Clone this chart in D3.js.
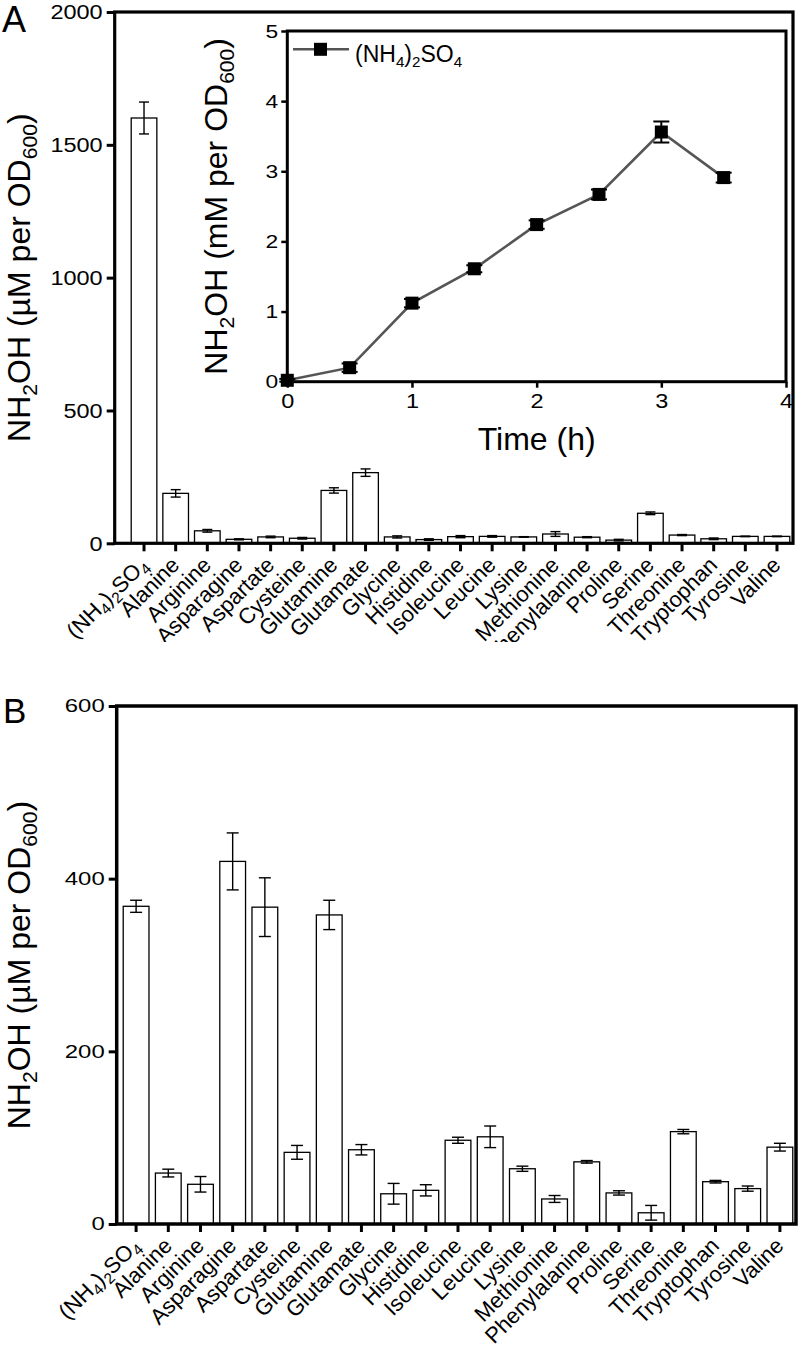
<!DOCTYPE html>
<html><head><meta charset="utf-8">
<script src="https://cdn.jsdelivr.net/npm/d3@7"></script>
<style>
body{margin:0;background:#fff}
svg{display:block}
text{font-family:"Liberation Sans",Arial,Helvetica,sans-serif;fill:#000}
</style>
</head><body>
<svg id="chart" width="800" height="1356"></svg>
<script>
// ---------- data ----------
const categories = ["(NH4)2SO4","Alanine","Arginine","Asparagine","Aspartate","Cysteine","Glutamine","Glutamate","Glycine","Histidine","Isoleucine","Leucine","Lysine","Methionine","Phenylalanine","Proline","Serine","Threonine","Tryptophan","Tyrosine","Valine"];
const panelAValues = [1601,188,47,15,24,19,199,266,24,14,25,26,24,35,23,12,113,31,17,26,26];
const panelAErrors = [60,14,5,2,3,3,10,14,4,3,4,3,1,9,2,3,5,2,3,1,1];
const panelBValues = [368,59,46,420,367,83,358,86,35,39,97,101,64,29,72,36,13,107,49,41,89];
const panelBErrors = [7,4.5,9,33,34,8,17,6,12,6.5,3.5,12.5,3,4,1.5,2.5,8.5,2.5,1.5,3,4.5];
const panelATicks = [0,500,1000,1500,2000];
const panelBTicks = [0,200,400,600];
const insetTime = [0,0.5,1,1.5,2,2.5,3,3.5];
const insetValues = [0.02,0.2,1.12,1.61,2.24,2.67,3.56,2.91];
const insetErrors = [0.02,0.06,0.06,0.05,0.06,0.07,0.15,0.07];
const insetXTicks = [0,1,2,3,4];
const insetYTicks = [0,1,2,3,4,5];

const svg = d3.select("#chart");

function segsFor(name){
  if(name === "(NH4)2SO4") return [["(NH",0],["4",1],[")",0],["2",1],["SO",0],["4",1]];
  return [[name,0]];
}
function rich(textSel, segs, fs, subScale){
  const ss = subScale || 0.66;
  const shift = fs*0.22;
  let down = false;
  segs.forEach(([t,sub])=>{
    const ts = textSel.append("tspan").text(t);
    if(sub){ ts.attr("font-size", fs*ss); if(!down){ts.attr("dy", shift); down=true;} }
    else { if(down){ ts.attr("dy", -shift); down=false; } }
  });
}
function scaleTickText(g, sx){
  g.selectAll(".tick text").each(function(){
    const t = d3.select(this);
    const x = +t.attr("x") || 0;
    t.attr("x", x/sx).attr("transform", `scale(${sx},1)`);
  });
}

// ---------- bar panel ----------
function barPanel(cfg){
  const {x0,x1,y0,y1,bandRange,padIn,values,errors,ticks,yMax,frameW,tickFs,tickSx,capW,labelFs,clipY,yLabelX} = cfg;
  const g = svg.append("g");
  const x = d3.scaleBand().domain(categories).range(bandRange).paddingInner(padIn).paddingOuter(padIn/2);
  const y = d3.scaleLinear().domain([0,yMax]).range([y1,y0]);

  g.selectAll("rect.bar").data(categories).join("rect")
    .attr("x", d=>x(d)).attr("width", x.bandwidth())
    .attr("y", (d,i)=>y(values[i])).attr("height", (d,i)=>y(0)-y(values[i]))
    .attr("fill","#fff").attr("stroke","#000").attr("stroke-width",1.3);
  const eb = g.selectAll("g.err").data(categories).join("g")
    .attr("stroke","#000").attr("stroke-width",1.4);
  eb.append("line").attr("x1",d=>x(d)+x.bandwidth()/2).attr("x2",d=>x(d)+x.bandwidth()/2)
    .attr("y1",(d,i)=>y(values[i]+errors[i])).attr("y2",(d,i)=>y(values[i]-errors[i]));
  eb.append("line").attr("x1",d=>x(d)+x.bandwidth()/2-capW/2).attr("x2",d=>x(d)+x.bandwidth()/2+capW/2)
    .attr("y1",(d,i)=>y(values[i]+errors[i])).attr("y2",(d,i)=>y(values[i]+errors[i]));
  eb.append("line").attr("x1",d=>x(d)+x.bandwidth()/2-capW/2).attr("x2",d=>x(d)+x.bandwidth()/2+capW/2)
    .attr("y1",(d,i)=>y(values[i]-errors[i])).attr("y2",(d,i)=>y(values[i]-errors[i]));

  g.append("rect").attr("x",x0).attr("y",y0).attr("width",x1-x0).attr("height",y1-y0)
    .attr("fill","none").attr("stroke","#000").attr("stroke-width",frameW);

  const ya = g.append("g").attr("transform",`translate(${x0},0)`)
    .call(d3.axisLeft(y).tickValues(ticks).tickSize(8).tickPadding(4).tickFormat(d3.format("d")));
  ya.select(".domain").remove();
  ya.selectAll(".tick line").attr("stroke","#000").attr("stroke-width",3);
  ya.selectAll(".tick text").attr("font-size",tickFs).attr("font-family",null).attr("fill","#000");
  scaleTickText(ya, tickSx);

  const xa = g.append("g").attr("transform",`translate(0,${y1})`)
    .call(d3.axisBottom(x).tickSize(8).tickFormat(""));
  xa.select(".domain").remove();
  xa.selectAll(".tick line").attr("stroke","#000").attr("stroke-width",3);

  const clipId = "clip"+Math.round(y1);
  svg.append("clipPath").attr("id",clipId).append("rect").attr("x",0).attr("y",y1).attr("width",800).attr("height",clipY-y1);
  const lg = g.append("g").attr("clip-path",`url(#${clipId})`);
  categories.forEach(c=>{
    const t = lg.append("text")
      .attr("transform",`translate(${x(c)+x.bandwidth()/2+5},${y1+23}) rotate(-45)`)
      .attr("text-anchor","end").attr("font-size",labelFs);
    rich(t, segsFor(c), labelFs, 0.7);
  });

  const yl = g.append("text")
    .attr("transform",`translate(${yLabelX},${(y0+y1)/2}) rotate(-90)`)
    .attr("text-anchor","middle").attr("font-size",32);
  rich(yl, [["NH",0],["2",1],["OH (\u00B5M per OD",0],["600",1],[")",0]], 32);
  return g;
}

barPanel({x0:114.7,x1:793,y0:12,y1:543.3,bandRange:[128.2,792.8],padIn:0.19,
  values:panelAValues,errors:panelAErrors,ticks:panelATicks,yMax:2000,frameW:3.2,
  tickFs:21,tickSx:1.12,capW:10,labelFs:22,clipY:642,yLabelX:30});
barPanel({x0:116.7,x1:796,y0:706,y1:1224,bandRange:[120,796],padIn:0.2,
  values:panelBValues,errors:panelBErrors,ticks:panelBTicks,yMax:600,frameW:3.5,
  tickFs:18,tickSx:1.33,capW:12,labelFs:22,clipY:1356,yLabelX:30});

svg.append("text").attr("x",2).attr("y",32).attr("font-size",36).text("A");
svg.append("text").attr("x",3).attr("y",723).attr("font-size",35).text("B");

// ---------- inset ----------
const ix0=287.3, ix1=786, iy0=31, iy1=381.7;
const ix = d3.scaleLinear().domain([0,4]).range([ix0,ix1]);
const iy = d3.scaleLinear().domain([0,5]).range([iy1,iy0]);
const ig = svg.append("g");
ig.append("rect").attr("x",ix0).attr("y",iy0).attr("width",ix1-ix0).attr("height",iy1-iy0)
  .attr("fill","#fff").attr("stroke","#000").attr("stroke-width",3);

const ixa = ig.append("g").attr("transform",`translate(0,${iy1})`)
  .call(d3.axisBottom(ix).tickValues(insetXTicks).tickSize(6).tickPadding(5).tickFormat(d3.format("d")));
ixa.select(".domain").remove();
ixa.selectAll(".tick line").attr("stroke","#000").attr("stroke-width",2.5);
ixa.selectAll(".tick text").attr("font-size",21).attr("fill","#000");
scaleTickText(ixa,1.12);

const iya = ig.append("g").attr("transform",`translate(${ix0},0)`)
  .call(d3.axisLeft(iy).tickValues(insetYTicks).tickSize(6).tickPadding(3).tickFormat(d3.format("d")));
iya.select(".domain").remove();
iya.selectAll(".tick line").attr("stroke","#000").attr("stroke-width",2.5);
iya.selectAll(".tick text").attr("font-size",19).attr("fill","#000");
scaleTickText(iya,1.2);

ig.append("path").datum(insetTime)
  .attr("d", d3.line().x(d=>ix(d)).y((d,i)=>iy(insetValues[i])))
  .attr("fill","none").attr("stroke","#555").attr("stroke-width",2.6);
const ieb = ig.selectAll("g.ierr").data(insetTime).join("g").attr("stroke","#000").attr("stroke-width",2);
ieb.append("line").attr("x1",d=>ix(d)).attr("x2",d=>ix(d))
  .attr("y1",(d,i)=>iy(insetValues[i]+insetErrors[i])).attr("y2",(d,i)=>iy(insetValues[i]-insetErrors[i]));
ieb.append("line").attr("x1",d=>ix(d)-8).attr("x2",d=>ix(d)+8)
  .attr("y1",(d,i)=>iy(insetValues[i]+insetErrors[i])).attr("y2",(d,i)=>iy(insetValues[i]+insetErrors[i]));
ieb.append("line").attr("x1",d=>ix(d)-8).attr("x2",d=>ix(d)+8)
  .attr("y1",(d,i)=>iy(insetValues[i]-insetErrors[i])).attr("y2",(d,i)=>iy(insetValues[i]-insetErrors[i]));
ig.selectAll("rect.mk").data(insetTime).join("rect")
  .attr("x",d=>ix(d)-6.5).attr("y",(d,i)=>iy(insetValues[i])-6.5)
  .attr("width",13).attr("height",13).attr("fill","#000");

ig.append("line").attr("x1",293).attr("x2",349).attr("y1",49.3).attr("y2",49.3)
  .attr("stroke","#555").attr("stroke-width",2.6);
ig.append("rect").attr("x",314).attr("y",42.8).attr("width",13).attr("height",13).attr("fill","#000");
const lt = ig.append("text").attr("x",355).attr("y",61.5).attr("font-size",23);
rich(lt, segsFor("(NH4)2SO4"), 23);

ig.append("text").attr("x",(ix0+ix1)/2).attr("y",450).attr("text-anchor","middle")
  .attr("font-size",32).text("Time (h)");
const iyl = ig.append("text").attr("transform",`translate(227,${(iy0+iy1)/2}) rotate(-90)`)
  .attr("text-anchor","middle").attr("font-size",32);
rich(iyl, [["NH",0],["2",1],["OH (mM per OD",0],["600",1],[")",0]], 32);
</script>
</body></html>
